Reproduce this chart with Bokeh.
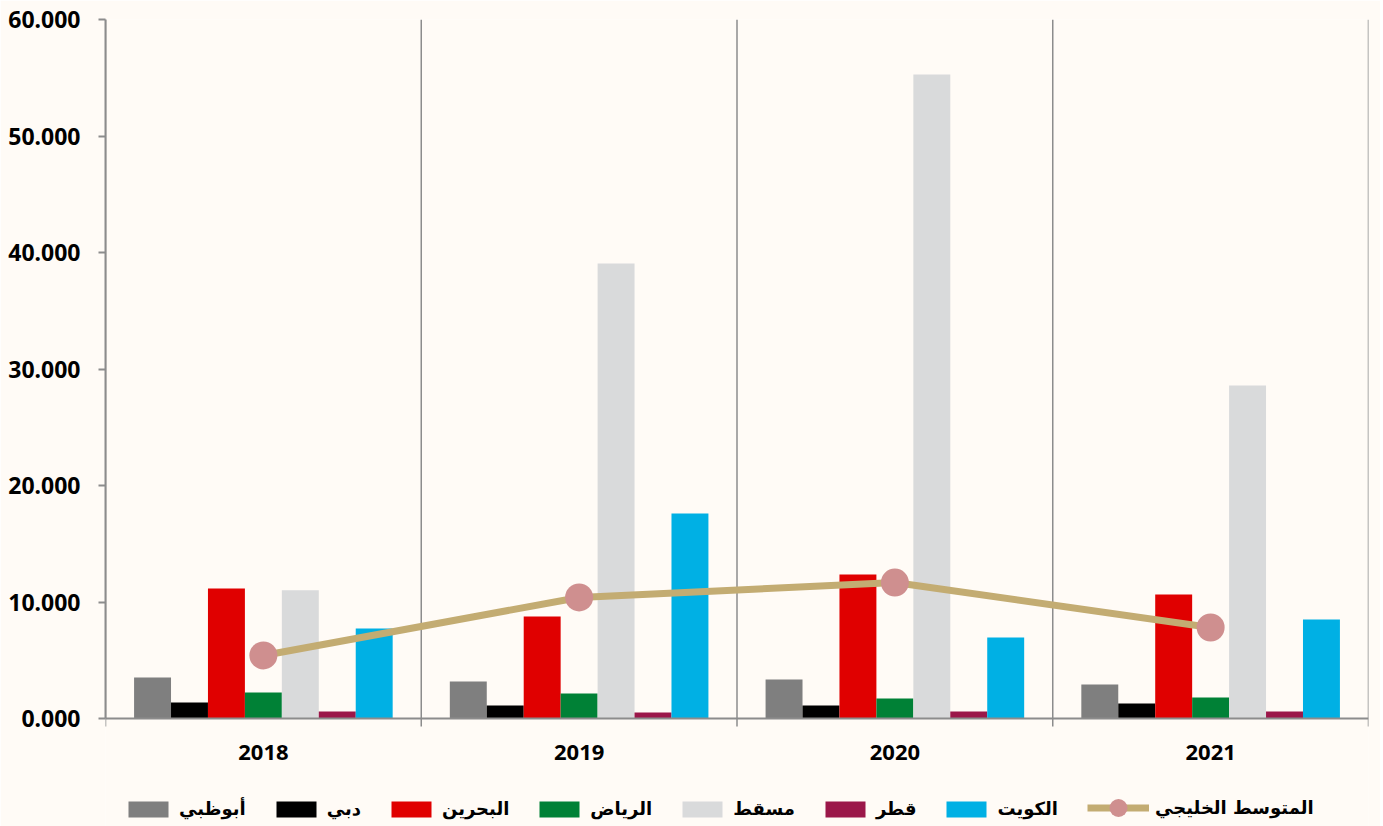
from bokeh.plotting import figure
from bokeh.models import (FactorRange, Range1d, FixedTicker, Legend,
                          LegendItem, NumeralTickFormatter, ColumnDataSource)
from bokeh.core.properties import value
from bokeh.transform import dodge
from bokeh.embed import file_html
from bokeh.resources import INLINE

years = ["2018", "2019", "2020", "2021"]
abu_dhabi = [3.52, 3.18, 3.35, 2.92]
dubai = [1.37, 1.12, 1.12, 1.29]
bahrain = [11.16, 8.76, 12.36, 10.64]
riyadh = [2.23, 2.15, 1.72, 1.80]
muscat = [11.00, 39.06, 55.28, 28.58]
qatar = [0.60, 0.52, 0.60, 0.60]
kuwait = [7.73, 17.60, 6.95, 8.50]
gulf_avg = [5.41, 10.39, 11.67, 7.81]

series_names = ["أبوظبي", "دبي", "البحرين", "الرياض", "مسقط", "قطر", "الكويت"]
avg_name = "المتوسط الخليجي"
y_ticks = [0, 10, 20, 30, 40, 50, 60]

colors = ["#7F7F7F", "#000000", "#E00000", "#008136", "#D9DADB", "#9B1749", "#00B0E4"]
line_color = "#C3AC72"
marker_color = "#CF8F8F"
bg = "#FFFBF6"
axis_gray = "#8C8C8C"

Y_MAX = 60
PX_PER_UNIT = 699 / Y_MAX          # plot area: 699 px for 0..60
FIG_H = 826
TOP = 19
y_min = -(FIG_H - TOP - 699) / PX_PER_UNIT   # frame extended below zero for axis labels & legend

source = ColumnDataSource(dict(
    years=years, s0=abu_dhabi, s1=dubai, s2=bahrain, s3=riyadh, s4=muscat,
    s5=qatar, s6=kuwait, avg=gulf_avg))

p = figure(width=1380, height=FIG_H,
           x_range=FactorRange(*years, range_padding=0),
           y_range=Range1d(y_min, Y_MAX),
           x_axis_location=None,
           output_backend="svg", toolbar_location=None,
           background_fill_color=bg, border_fill_color=bg,
           min_border_left=105, min_border_right=12, min_border_top=TOP,
           min_border_bottom=0, outline_line_color=None)
p.grid.visible = False

# category boundaries (synthetic coordinates of the factor range)
boundaries = list(range(len(years) + 1))
tick_len = 8 / PX_PER_UNIT

# vertical grid lines / boundary ticks
p.segment(x0=boundaries, y0=[-tick_len] * len(boundaries), x1=boundaries,
          y1=[Y_MAX] * len(boundaries), line_color=axis_gray, line_width=1.5)

bar_w = 0.117
items = []
for i, (name, col) in enumerate(zip(series_names, colors)):
    r = p.vbar(x=dodge("years", (i - 3) * bar_w, range=p.x_range), top="s%d" % i,
               width=bar_w, source=source, fill_color=col, line_color=None)
    items.append(LegendItem(label=name, renderers=[r]))

# x axis line at zero
p.segment(x0=[boundaries[0]], y0=[0], x1=[boundaries[-1]], y1=[0],
          line_color=axis_gray, line_width=2)

ln = p.line(x="years", y="avg", source=source, line_color=line_color, line_width=7)
sc = p.scatter(x="years", y="avg", source=source, size=28, fill_color=marker_color,
               line_color=None)

# year labels
p.text(x=years, y=[-34 / PX_PER_UNIT] * len(years), text=years,
       text_font=value("Noto Sans"), text_font_style="bold", text_font_size="22px",
       text_align="center", text_baseline="middle", text_color="#000000")

# y axis
yax = p.yaxis[0]
yax.bounds = (0, Y_MAX)
yax.ticker = FixedTicker(ticks=y_ticks)
yax.formatter = NumeralTickFormatter(format="0.000")
yax.axis_line_color = axis_gray
yax.axis_line_width = 2
yax.major_tick_line_color = axis_gray
yax.major_tick_line_width = 2
yax.major_tick_out = 7
yax.major_tick_in = 0
yax.minor_tick_line_color = None
yax.major_label_text_font = "Noto Sans"
yax.major_label_text_font_style = "bold"
yax.major_label_text_font_size = "23px"
yax.major_label_text_color = "#000000"
yax.major_label_standoff = 18

common = dict(orientation="horizontal", label_text_font="DejaVu Sans",
              label_text_font_style="bold", label_text_font_size="18px",
              label_text_color="#000000", spacing=25, label_standoff=6,
              background_fill_alpha=0, border_line_color=None, padding=0, margin=0)

# legend row centred 18 px above the frame bottom
legend = Legend(items=items, location=(18, 7), glyph_width=50, glyph_height=20, **common)
p.add_layout(legend, "center")

legend2 = Legend(items=[LegendItem(label=avg_name, renderers=[ln, sc])],
                 location=(982, -4), glyph_width=62, glyph_height=45, **common)
p.add_layout(legend2, "center")

open("out.html", "w").write(file_html(p, INLINE))
